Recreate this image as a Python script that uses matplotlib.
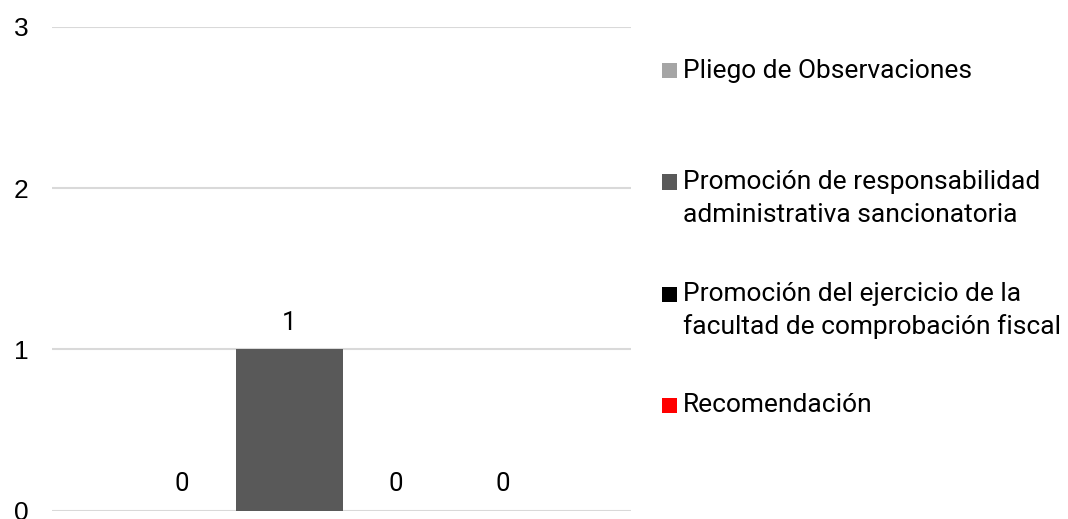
import matplotlib
matplotlib.use("Agg")
import matplotlib.pyplot as plt
from matplotlib.patches import Rectangle

series = ["Pliego de Observaciones",
          "Promoción de responsabilidad\nadministrativa sancionatoria",
          "Promoción del ejercicio de la\nfacultad de comprobación fiscal",
          "Recomendación"]
values = [0, 1, 0, 0]
colors = ["#A5A5A5", "#595959", "#000000", "#FF0000"]
yticks = [0, 1, 2, 3]

W, H = 1068, 519
fig = plt.figure(figsize=(W / 100, H / 100), dpi=100)
ax = fig.add_axes([52 / W, 1 - 510.5 / H, (631 - 52) / W, (510.5 - 27) / H])

x = list(range(len(values)))
ax.bar(x, values, width=1.0, color=colors, zorder=3)
for xi, v in zip(x, values):
    ax.annotate(str(v), (xi, v), xytext=(0, 19), textcoords="offset points",
                ha="center", va="center", fontsize=18.5, family="Roboto", color="#000000")

ax.set_xlim(-1.215, 4.196)
ax.set_ylim(0, 3)
ax.set_yticks(yticks)
ax.set_yticklabels([str(t) for t in yticks], family="Liberation Sans", fontsize=19)
ax.tick_params(axis="y", length=0, pad=17)
ax.set_xticks([])
ax.yaxis.grid(True, color="#D9D9D9", linewidth=1.5, zorder=0)
for s in ax.spines.values():
    s.set_visible(False)

# legend, drawn manually
baselines = [78, 189, 301, 412]
line_gap = 33
for lab, col, yb in zip(series, colors, baselines):
    fig.patches.append(Rectangle((662 / W, 1 - (yb + 0.5) / H), 15 / W, 15 / H,
                                 transform=fig.transFigure, facecolor=col, edgecolor="none"))
    for i, line in enumerate(lab.split("\n")):
        fig.text(683 / W, 1 - (yb + i * line_gap) / H, line, ha="left", va="baseline",
                 fontsize=19, family="Roboto", color="#000000")

fig.savefig("out.png", dpi=100)
